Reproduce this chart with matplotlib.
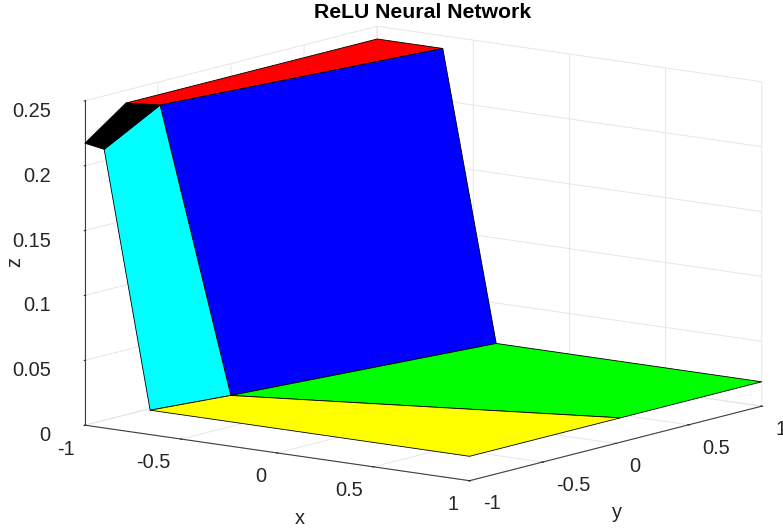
import matplotlib
matplotlib.use("Agg")
import matplotlib.pyplot as plt
from mpl_toolkits.mplot3d.art3d import Poly3DCollection

plt.rcParams['font.family'] = ['Liberation Sans', 'DejaVu Sans']
plt.rcParams['axes.unicode_minus'] = False

FLOOR = 0.0188
PLATEAU = 0.2402
yellow = [(-0.661, -1, FLOOR), (-0.585, -0.548, FLOOR), (1, 0.032, FLOOR), (1, -1, FLOOR)]
green = [(-0.585, -0.548, FLOOR), (-0.381, 1, FLOOR), (1, 1, FLOOR), (1, 0.032, FLOOR)]
blue = [(-0.86, -0.67, PLATEAU), (-0.659, 1, PLATEAU), (-0.381, 1, FLOOR), (-0.585, -0.548, FLOOR)]
cyan = [(-0.9, -1, 0.2147), (-0.86, -0.67, PLATEAU), (-0.585, -0.548, FLOOR), (-0.661, -1, FLOOR)]
red = [(-1, -0.72, PLATEAU), (-1, 1, PLATEAU), (-0.659, 1, PLATEAU), (-0.86, -0.67, PLATEAU)]
black = [(-1, -1, 0.2173), (-1, -0.72, PLATEAU), (-0.86, -0.67, PLATEAU), (-0.9, -1, 0.2147)]
regions = [yellow, green, cyan, blue, red, black]
region_colors = ['#ffff00', '#00ff00', '#00ffff', '#0000ff', '#ff0000', '#000000']

xy_ticks = [-1, -0.5, 0, 0.5, 1]
xy_labels = ['-1', '-0.5', '0', '0.5', '1']
z_ticks = [0, 0.05, 0.1, 0.15, 0.2, 0.25]
z_labels = ['0', '0.05', '0.1', '0.15', '0.2', '0.25']

W, H = 783, 531
side = 737.5
cx, cy = 413.4, 263.45
fig = plt.figure(figsize=(W / 100, H / 100), dpi=100)
ax = fig.add_axes([(cx - side / 2) / W, (H - cy - side / 2) / H, side / W, side / H],
                  projection='3d', proj_type='ortho')
ax.patch.set_alpha(0)
ax.view_init(elev=11.06, azim=-53.04)
ax.set_box_aspect((481.8, 486.6, 330.9))
ax.set_xlim(-1, 1, view_margin=0)
ax.set_ylim(-1, 1, view_margin=0)
ax.set_zlim(0, 0.25, view_margin=0)

ax.add_collection3d(Poly3DCollection(regions, facecolors=region_colors,
                                     edgecolors='black', linewidths=0.6))

ax.set_xticks(xy_ticks, xy_labels)
ax.set_yticks(xy_ticks, xy_labels)
ax.set_zticks(z_ticks, z_labels)
ax.tick_params(labelsize=14.4, labelcolor='#262626', colors='#262626')
for axis, name in ((ax.xaxis, 'x'), (ax.yaxis, 'y'), (ax.zaxis, 'z')):
    axis.set_pane_color((1, 1, 1, 0))
    axis.pane.set_edgecolor((1, 1, 1, 0))
    axis.line.set_color('#404040')
    axis.line.set_linewidth(0.8)
    axis._axinfo['grid'].update(color='#e6e6e6', linewidth=0.7)
    axis._axinfo['tick'].update(inward_factor=0.03, outward_factor=0.03, linewidth={True: 0.7, False: 0.5})
ax.zaxis.set_ticks_position('lower')
ax.tick_params(axis='x', pad=2)
ax.tick_params(axis='y', pad=2)
ax.tick_params(axis='z', pad=6)
for t in ax.get_xticklabels():
    t.set_ha('right')
for t in ax.get_yticklabels():
    t.set_ha('left')
for t in ax.get_zticklabels():
    t.set_ha('right')

fig.text(300 / W, 1 - 518 / H, 'x', ha='center', va='center', fontsize=14.4, color='#262626')
fig.text(617 / W, 1 - 513 / H, 'y', ha='center', va='center', fontsize=14.4, color='#262626')
fig.text(15 / W, 1 - 262 / H, 'z', ha='center', va='center', fontsize=14.4, color='#262626', rotation=90)
fig.text(423 / W, 1 - 12 / H, 'ReLU Neural Network', ha='center', va='center',
         fontsize=15.35, fontweight='bold', color='black')
fig.savefig('out.png', dpi=100)
